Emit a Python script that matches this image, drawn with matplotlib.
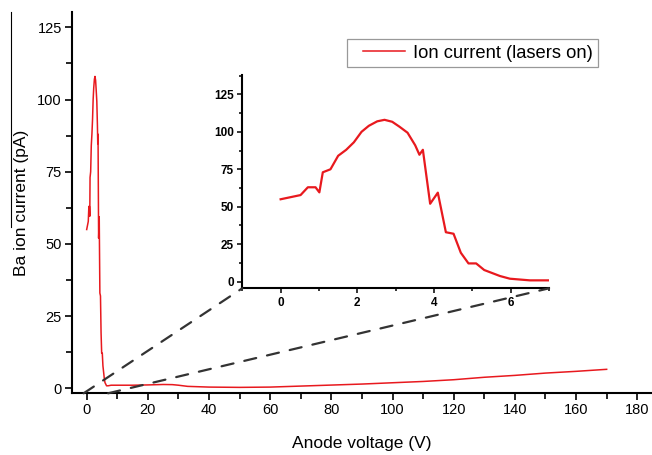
import matplotlib
matplotlib.use("Agg")
import matplotlib.pyplot as plt
from matplotlib.patches import ConnectionPatch
from matplotlib.lines import Line2D
from matplotlib.legend_handler import HandlerLine2D
from matplotlib.ticker import MultipleLocator
import numpy as np

plt.rcParams['font.family'] = ['Liberation Sans', 'DejaVu Sans']

# ---- data ----
v_low = [0, 0.52, 0.71, 0.91, 1.01, 1.10, 1.30, 1.50, 1.71, 1.91, 2.11, 2.30, 2.52, 2.71,
         2.91, 3.10, 3.31, 3.51, 3.62, 3.71, 3.90, 4.10, 4.31, 4.51, 4.70, 4.90, 5.10,
         5.31, 5.72, 5.98, 6.5, 7.0]
i_low = [55, 57.8, 63, 63, 59.6, 73, 75, 84, 88, 93, 100, 104, 107, 108,
         106.7, 103.4, 99.4, 91, 84.7, 88, 52, 59.4, 33, 32, 19.3, 12.2, 12.2,
         7.8, 3.8, 2.0, 0.9, 0.9]
v_high = [8, 15, 20, 25, 28, 30, 33, 40, 50, 60, 70, 80, 90, 100, 110, 120, 130, 140,
          150, 160, 170]
i_high = [1.1, 1.1, 1.2, 1.35, 1.3, 1.1, 0.7, 0.45, 0.35, 0.45, 0.8, 1.15, 1.5, 1.95,
          2.4, 3.0, 3.85, 4.5, 5.3, 5.9, 6.6]
x_ticks = [0, 20, 40, 60, 80, 100, 120, 140, 160, 180]
y_ticks = [0, 25, 50, 75, 100, 125]
inset_x_ticks = [0, 2, 4, 6]
inset_y_ticks = [0, 25, 50, 75, 100, 125]
legend_label = "Ion current (lasers on)"

red = '#e8191e'
W, H = 652, 455
fig = plt.figure(figsize=(W / 100, H / 100), dpi=100)


class ShortLineHandler(HandlerLine2D):
    """Draw the legend line only in the right part of the handle box."""
    frac = 0.21

    def create_artists(self, legend, orig_handle, xdescent, ydescent, width, height,
                       fontsize, trans):
        return super().create_artists(legend, orig_handle, xdescent - width * self.frac,
                                      ydescent, width * (1 - self.frac), height,
                                      fontsize, trans)


# main axes
ax = fig.add_axes([71.7 / W, 1 - 393.3 / H, (651 - 71.7) / W, (393.3 - 12) / H])
v_all = v_low + v_high
i_all = i_low + i_high
line, = ax.plot(v_all, i_all, color=red, lw=1.1, label=legend_label)
ax.set_xlim(-4.9, 184.5)
ax.set_ylim(-1.7, 130.3)
ax.set_xticks(x_ticks)
ax.set_yticks(y_ticks)
ax.xaxis.set_minor_locator(MultipleLocator(10))
ax.yaxis.set_minor_locator(MultipleLocator(12.5))
for s in ['top', 'right']:
    ax.spines[s].set_visible(False)
for s in ['left', 'bottom']:
    ax.spines[s].set_linewidth(1.5)
ax.tick_params(which='major', direction='out', length=5, width=1.2, labelsize=10.5, pad=2)
ax.tick_params(which='minor', direction='out', length=4.5, width=1.2)
ax.set_xlabel("Anode voltage (V)", fontsize=12.5, labelpad=14)
ax.set_ylabel("Ba ion current (pA)", fontsize=12.5, labelpad=6)

leg = ax.legend(loc='upper left', bbox_to_anchor=(346.7 / W, 1 - 39.3 / H),
                bbox_transform=fig.transFigure, borderaxespad=0, fontsize=13.2,
                frameon=True, fancybox=False, edgecolor='#999999', framealpha=1,
                handlelength=2.9, handletextpad=0.4, borderpad=0.3,
                handler_map={line: ShortLineHandler()})
leg.get_frame().set_linewidth(0.9)

# inset axes
axi = fig.add_axes([242.3 / W, 1 - 288.3 / H, (549 - 242.3) / W, (288.3 - 75) / H])
axi.plot(v_low, i_low, color=red, lw=1.6)
axi.set_xlim(-1, 7)
axi.set_ylim(-4.4, 137.9)
axi.set_xticks(inset_x_ticks)
axi.set_yticks(inset_y_ticks)
axi.xaxis.set_minor_locator(MultipleLocator(1))
axi.yaxis.set_minor_locator(MultipleLocator(12.5))
for s in ['top', 'right']:
    axi.spines[s].set_visible(False)
for s in ['left', 'bottom']:
    axi.spines[s].set_linewidth(1.5)
axi.tick_params(which='major', direction='out', length=3.5, width=1.1, labelsize=8.5, pad=2.5)
axi.tick_params(which='minor', direction='out', length=2.5, width=1.1)
for lab in axi.get_xticklabels() + axi.get_yticklabels():
    lab.set_fontweight('bold')
axi.patch.set_alpha(0)

# zoom connector lines
for (xa, xb) in [(-1, 0), (7, 1)]:
    con = ConnectionPatch(xyA=(xa, -1.7), coordsA=ax.transData,
                          xyB=(xb, 0), coordsB=axi.transAxes,
                          color='#333333', lw=1.6, linestyle=(0, (5.5, 5)))
    fig.add_artist(con)

# thin vertical line at the left edge
fig.add_artist(Line2D([10.6 / W, 10.6 / W], [1 - 12 / H, 1 - 227 / H],
                      transform=fig.transFigure, color='black', lw=0.8))

fig.savefig("out.png", dpi=100)
